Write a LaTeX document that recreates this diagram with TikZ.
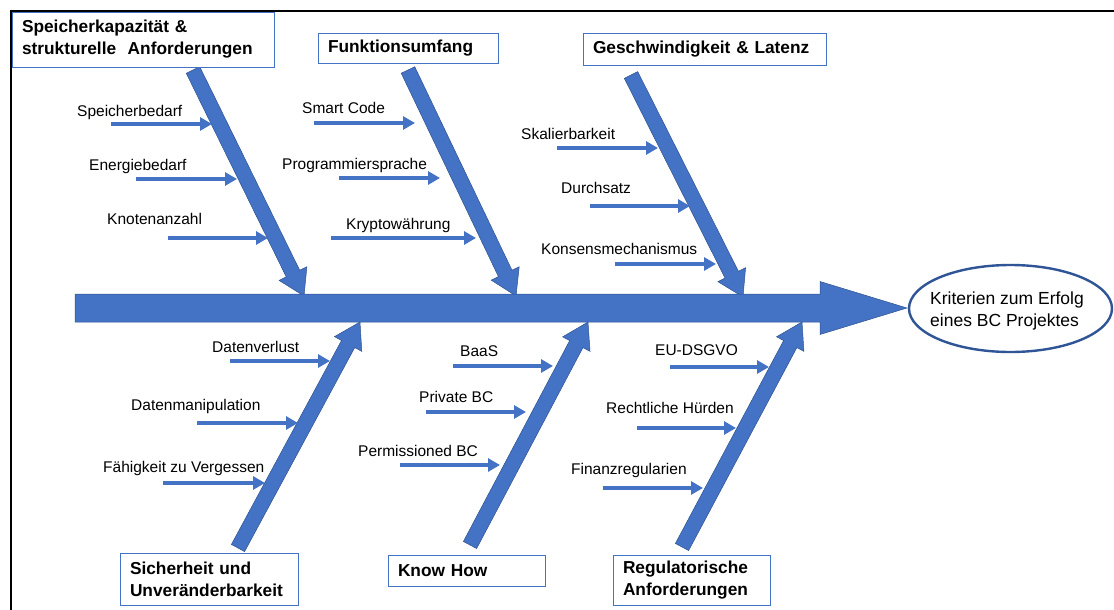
\documentclass[tikz,border=0pt]{standalone}
\usepackage{fontspec}
\setmainfont{Liberation Sans}
\usetikzlibrary{calc,arrows.meta}

\definecolor{boneblue}{HTML}{4472C4}
\definecolor{edgeblue}{HTML}{2F528F}
\definecolor{ringblue}{HTML}{2F5597}

% filled block arrow: #1 start, #2 tip, #3 half shaft width,
% #4 half head width, #5 head length
\newcommand\blockarrow[5]{%
  \coordinate (neck) at ($(#2)!#5!(#1)$);
  \filldraw[blockarrow]
    ($(#1)!#3!90:(#2)$) -- ($(neck)!#3!-90:(#1)$) -- ($(neck)!#4!-90:(#1)$)
    -- (#2) -- ($(neck)!#4!90:(#1)$) -- ($(neck)!#3!90:(#1)$)
    -- ($(#1)!#3!-90:(#2)$) -- cycle;}

\tikzset{
  blockarrow/.style={fill=boneblue, draw=edgeblue, line width=0.5pt, line join=miter},
  catbox/.style={draw=boneblue, line width=0.9pt, fill=white, align=left,
    inner xsep=10pt, inner ysep=0pt,
    font=\bfseries\fontsize{17.3}{22}\selectfont},
  cause/.style={anchor=west, inner sep=0pt, font=\fontsize{15.5}{18}\selectfont},
  subarrow/.style={draw=boneblue, line width=3.4pt,
    -{Triangle[length=12pt,width=13pt]}},
  ring/.style={draw=ringblue, line width=2.4pt, fill=white},
  goaltext/.style={inner sep=0pt, align=left, font=\fontsize{17.5}{22}\selectfont},
  frameline/.style={draw=black, line width=1.6pt}
}

\begin{document}
\begin{tikzpicture}[x=1pt,y=-1pt]
\useasboundingbox (0,0) rectangle (1114,610);

% outer frame (top and left edges)
\draw[frameline] (10,11) -- (1114,11);
\draw[frameline] (11,11) -- (11,610);

% effect: ellipse with its text
\coordinate (goal-c) at (1010.5,308.5);
\draw[ring] (goal-c) ellipse [x radius=101.5, y radius=43.5];
\node[goaltext] (goal) at (1007,311) {Kriterien zum Erfolg\\eines BC Projektes};

% spine
\coordinate (sp-s) at (75,308);
\coordinate (sp-t) at (907,308);

% bone end points
\coordinate (b1s) at (193,70);  \coordinate (b1t) at (304,296);
\coordinate (b2s) at (408,70);  \coordinate (b2t) at (516,296);
\coordinate (b3s) at (631,75);  \coordinate (b3t) at (743,297);
\coordinate (b4s) at (238,548); \coordinate (b4t) at (360,322);
\coordinate (b5s) at (470,545); \coordinate (b5t) at (588,322);
\coordinate (b6s) at (682,547); \coordinate (b6t) at (802,322);

\foreach \b in {1,...,6}{\blockarrow{b\b s}{b\b t}{7.5pt}{15.5pt}{25pt}}
\blockarrow{sp-s}{sp-t}{14pt}{26.5pt}{87pt}

% category boxes
\node[catbox, text width=242pt, minimum height=55pt] (cat1) at (143,39.5)
  {Speicherkapazität \&\\strukturelle\ \ Anforderungen};
\node[catbox, text width=160pt, minimum height=30pt] (cat2) at (408,48)
  {Funktionsumfang};
\node[catbox, text width=223pt, minimum height=32pt] (cat3) at (704.5,49)
  {Geschwindigkeit \& Latenz};
\node[catbox, text width=158pt, minimum height=52pt] (cat4) at (209,579)
  {Sicherheit und\\Unveränderbarkeit};
\node[catbox, text width=137pt, minimum height=31pt] (cat5) at (466.5,570.5)
  {Know How};
\node[catbox, text width=137pt, minimum height=50pt] (cat6) at (691.5,580)
  {Regulatorische\\Anforderungen};

% causes: name / label x / label y / arrow start x / arrow end x / arrow y / text
\foreach \n/\lx/\ly/\xa/\xb/\y/\txt in {
  c11/77/112/111/212/124/Speicherbedarf,
  c12/89/166/136/237/179/Energiebedarf,
  c13/107/219/168/268/238/Knotenanzahl,
  c21/302/108/314/415/123/Smart Code,
  c22/282/165/339/440/178/Programmiersprache,
  c23/346/225/331/476/238/Kryptowährung,
  c31/521/134/557/658/148/Skalierbarkeit,
  c32/561/188/590/690/206/Durchsatz,
  c33/541/249/615/716/264/Konsensmechanismus,
  c41/212/347/230/330/361/Datenverlust,
  c42/131/406/197/298/423/Datenmanipulation,
  c43/103/468/163/265/483/Fähigkeit zu Vergessen,
  c51/460/351/453/553/366/BaaS,
  c52/419/397/426/526/412/Private BC,
  c53/358/451/400/500/465/Permissioned BC,
  c61/655/350/670/769/367/EU-DSGVO,
  c62/606/408/637/736/428/Rechtliche Hürden,
  c63/571/470/603/703/488/Finanzregularien}{
  \node[cause] (\n) at (\lx,\ly) {\txt};
  \coordinate (\n-s) at (\xa,\y);
  \coordinate (\n-e) at (\xb,\y);
  \draw[subarrow] (\n-s) -- (\n-e);
}
\end{tikzpicture}
\end{document}
